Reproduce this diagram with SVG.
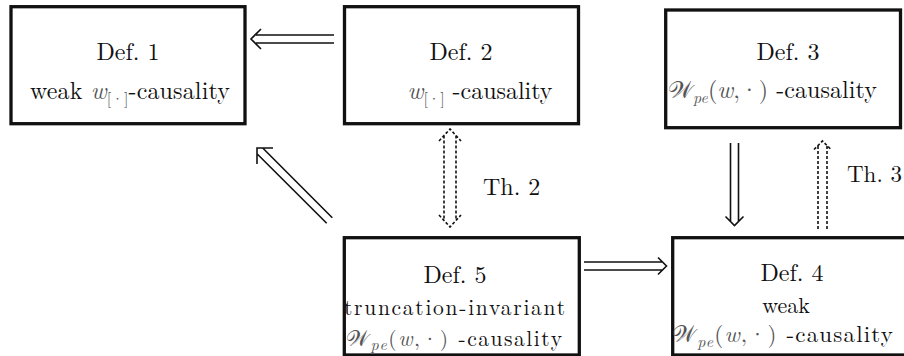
<svg xmlns="http://www.w3.org/2000/svg" width="904" height="356" viewBox="0 0 904 356">
<style>
.box{fill:#fff;stroke:#111;stroke-width:3.3}
.t{font-size:24px;fill:#111}
.m{fill:#555;font-style:italic}
.mu{fill:#555}
.s{font-size:16px;fill:#555}
.arr{fill:none;stroke:#111;stroke-width:1.6;stroke-linejoin:miter}
.dash{stroke-dasharray:3 2}
</style>
<rect width="904" height="356" fill="#fff"/>
<g id="connectors">
<path class="arr" d="M334,35 H256 M334,43 H256 M261,29 L251,39 L261,49"/>
<path class="arr" d="M332.3,217.7 L262.7,148 M326.7,223.3 L257,153.7 M273,148 L257,148 L257,164"/>
<path class="arr dash" d="M444,135.5 V220.5 M456,135.5 V220.5 M439,141 L450,129 L461,141 M439,215 L450,227 L461,215"/>
<path class="arr" d="M730.5,143 V221.5 M738.5,143 V221.5 M725.5,216.5 L734.5,225.5 L743.5,216.5"/>
<path class="arr dash" d="M818,229 V145.5 M827,229 V145.5 M814,149.5 L822.5,141 L831,149.5"/>
<path class="arr" d="M584,262 H662.5 M584,270 H662.5 M658,257.5 L666.5,266 L658,274.5"/>
<text class="t" x="483" y="195" font-family="Latin Modern Roman">Th. 2</text>
<text class="t" x="847" y="182" font-family="Latin Modern Roman" style="font-size:23px">Th. 3</text>
</g>
<g id="def1">
<rect class="box" x="11" y="6.7" width="234" height="117"/>
<text class="t" x="128" y="60" text-anchor="middle" font-family="Latin Modern Roman">Def. 1</text>
<text class="t" x="130" y="99" text-anchor="middle" font-family="Latin Modern Roman" textLength="200" lengthAdjust="spacing">weak <tspan class="m">w</tspan><tspan class="s" dy="5">[·]</tspan><tspan dy="-5">-causality</tspan></text>
</g>
<g id="def2">
<rect class="box" x="344.5" y="6.7" width="234" height="117"/>
<text class="t" x="461" y="60" text-anchor="middle" font-family="Latin Modern Roman">Def. 2</text>
<text class="t" x="480" y="99" text-anchor="middle" font-family="Latin Modern Roman" textLength="145" lengthAdjust="spacing"><tspan class="m">w</tspan><tspan class="s" dy="5">[·]</tspan><tspan dy="-5"> -causality</tspan></text>
</g>
<g id="def3">
<rect class="box" x="665.7" y="10" width="234.8" height="117.7"/>
<text class="t" x="788" y="60" text-anchor="middle" font-family="Latin Modern Roman">Def. 3</text>
<text class="t" x="772.5" y="98" text-anchor="middle" font-family="Latin Modern Roman" textLength="209" lengthAdjust="spacing"><tspan class="mu">𝒲</tspan><tspan class="s" font-style="italic" dy="5">pe</tspan><tspan class="mu" dy="-5">(</tspan><tspan class="m">w</tspan><tspan class="mu">,·)</tspan> -causality</text>
</g>
<g id="def5">
<rect class="box" x="344.3" y="237.7" width="235" height="117.3"/>
<text class="t" x="455" y="283" text-anchor="middle" font-family="Latin Modern Roman">Def. 5</text>
<text class="t" x="454.5" y="315" text-anchor="middle" font-family="Latin Modern Roman" style="font-size:21.5px" textLength="221" lengthAdjust="spacing">truncation-invariant</text>
<text class="t" x="454" y="345.5" text-anchor="middle" font-family="Latin Modern Roman" style="font-size:21.5px" textLength="216" lengthAdjust="spacing"><tspan class="mu">𝒲</tspan><tspan class="s" font-style="italic" dy="4">pe</tspan><tspan class="mu" dy="-4">(</tspan><tspan class="m">w</tspan><tspan class="mu">,·)</tspan> -causality</text>
</g>
<g id="def4">
<rect class="box" x="672.7" y="237.7" width="234" height="117.3"/>
<text class="t" x="792" y="281" text-anchor="middle" font-family="Latin Modern Roman">Def. 4</text>
<text class="t" x="786" y="313" text-anchor="middle" font-family="Latin Modern Roman" style="font-size:22px">weak</text>
<text class="t" x="782.5" y="342" text-anchor="middle" font-family="Latin Modern Roman" style="font-size:23px" textLength="221" lengthAdjust="spacing"><tspan class="mu">𝒲</tspan><tspan class="s" font-style="italic" dy="5">pe</tspan><tspan class="mu" dy="-5">(</tspan><tspan class="m">w</tspan><tspan class="mu">,·)</tspan> -causality</text>
</g>
</svg>
